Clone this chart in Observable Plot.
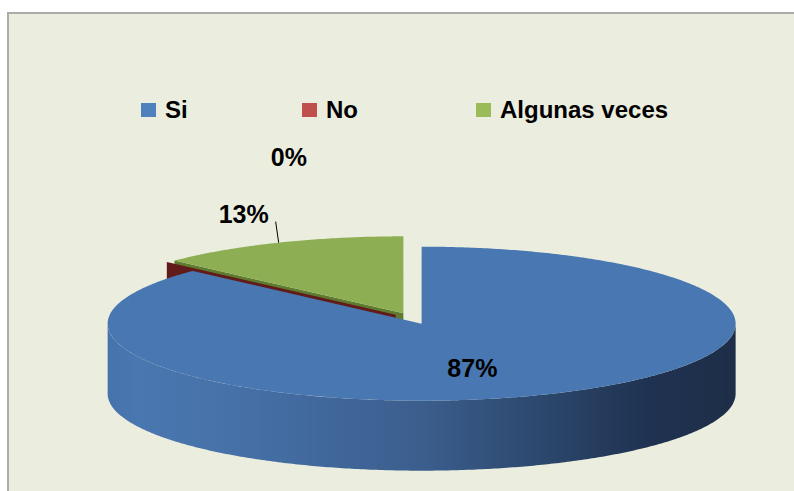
<!DOCTYPE html>
<html><head><meta charset="utf-8">
<script src="https://cdn.jsdelivr.net/npm/d3@7"></script>
<script src="https://cdn.jsdelivr.net/npm/@observablehq/plot@0.6"></script>
<style>
html,body{margin:0;padding:0;background:#fff;}
#wrap{position:relative;width:794px;height:491px;overflow:hidden;}
#frame{position:absolute;left:7px;top:12px;right:-10px;bottom:-10px;border-top:2px solid #ABABAB;border-left:2px solid #ABABAB;background:#EBEEDF;}
#chart{position:absolute;left:0;top:0;}
#legend{position:absolute;left:141px;top:96px;display:flex;align-items:center;font:bold 24px "Liberation Sans",Arial,sans-serif;line-height:28px;color:#000;}
.item{display:flex;align-items:center;}
.sw{width:15px;height:14px;margin-right:9px;}
</style></head><body>
<div id="wrap"><div id="frame"></div><div id="chart"></div><div id="legend"></div></div>
<script>
// ---- data ----
const categories = ["Si", "No", "Algunas veces"];
const values = [87, 0, 13];
const labels = ["87%", "0%", "13%"];

// ---- styles ----
const legendColors = ["#4F81BD", "#C0504D", "#9BBB59"];
const topColors = ["#4877B1", "#B5403D", "#8DAE52"];
const wallColors = ["url(#sideGrad)", "#611C1A", "#5F7B30"];

// ---- layout ----
const W = 794, H = 491;
const geo = {cx: 412, cy: 318, rx: 314, ry: 77, depth: 70, explode: 23};
const legendItemWidths = [161, 174, null];
const labelNudge = {
  "Si": {dx: -74, dy: -25},
  "No": {dx: 122, dy: -104},
  "Algunas veces": {dx: -35, dy: -28, leader: [-3, -21]}
};

const k = geo.ry / geo.rx;
const arcs = d3.pie().sort(null).value(d => d.value)
  (categories.map((c, i) => ({cat: c, value: values[i], i})));
const slices = arcs.map(a => {
  const mid = (a.startAngle + a.endAngle) / 2;
  return {...a, mid,
    cx: geo.cx + geo.explode * Math.sin(mid),
    cy: geo.cy - geo.explode * Math.cos(mid) * k};
});
const rim = (s, t, z = 0) => ({x: s.cx + geo.rx * Math.sin(t), y: s.cy - geo.ry * Math.cos(t) + z});
const arcPts = (s, t0, t1, z = 0) => {
  const n = Math.max(2, Math.ceil(Math.abs(t1 - t0) / 0.01));
  return d3.range(n + 1).map(j => rim(s, t0 + (t1 - t0) * j / n, z));
};
const radialWall = (s, t) => [
  {x: s.cx, y: s.cy}, rim(s, t), rim(s, t, geo.depth), {x: s.cx, y: s.cy + geo.depth}
];

const faces = [];
const order = slices.slice().sort((a, b) => Math.cos(b.mid) - Math.cos(a.mid));
for (const s of order) {
  const i = s.data.i;
  if (Math.sin(s.startAngle) < -1e-6) faces.push({pts: radialWall(s, s.startAngle), fill: wallColors[i]});
  if (Math.sin(s.endAngle) > 1e-6) faces.push({pts: radialWall(s, s.endAngle), fill: wallColors[i]});
  const a0 = Math.max(s.startAngle, Math.PI / 2), a1 = Math.min(s.endAngle, 3 * Math.PI / 2);
  if (a1 > a0) {
    const top = arcPts(s, a0, a1, 0);
    const bot = arcPts(s, a1, a0, geo.depth);
    faces.push({pts: top.concat(bot), fill: wallColors[i]});
  }
  if (s.endAngle - s.startAngle > 1e-6) {
    faces.push({pts: [{x: s.cx, y: s.cy}].concat(arcPts(s, s.startAngle, s.endAngle)), fill: topColors[i]});
  }
}

const labelData = slices.map(s => {
  const p = rim(s, s.mid);
  const n = labelNudge[s.data.cat];
  return {text: labels[s.data.i], x: p.x + n.dx, y: p.y + n.dy, rx: p.x, ry: p.y, leader: n.leader};
});
const leaders = labelData.filter(d => d.leader).map(d => ({x1: d.rx, y1: d.ry, x2: d.rx + d.leader[0], y2: d.ry + d.leader[1]}));

const svg = Plot.plot({
  width: W, height: H,
  margin: 0,
  x: {domain: [0, W], range: [0, W], axis: null},
  y: {domain: [0, H], range: [0, H], axis: null},
  style: {background: "transparent", overflow: "visible"},
  marks: [
    ...faces.map(f => Plot.line(f.pts, {x: "x", y: "y", fill: f.fill, stroke: "none", curve: "linear-closed"})),
    Plot.link(leaders, {x1: "x1", y1: "y1", x2: "x2", y2: "y2", stroke: "#000", strokeWidth: 1}),
    Plot.text(labelData, {x: "x", y: "y", text: "text", fontSize: 25, fontWeight: "bold",
      fontFamily: "'Liberation Sans', Arial, sans-serif", fill: "#000"})
  ]
});
const defs = document.createElementNS("http://www.w3.org/2000/svg", "defs");
defs.innerHTML = `<linearGradient id="sideGrad" x1="0" x2="1" y1="0" y2="0">
  <stop offset="0" stop-color="#4673AC"/>
  <stop offset="0.05" stop-color="#4A77B0"/>
  <stop offset="0.2" stop-color="#4671A8"/>
  <stop offset="0.5" stop-color="#3B5E8D"/>
  <stop offset="0.72" stop-color="#2A4468"/>
  <stop offset="0.86" stop-color="#1F3251"/>
  <stop offset="1" stop-color="#1E2E48"/>
</linearGradient>`;
svg.insertBefore(defs, svg.firstChild);
document.getElementById("chart").appendChild(svg);

// legend
const legend = document.getElementById("legend");
categories.forEach((c, i) => {
  const item = document.createElement("div");
  item.className = "item";
  if (legendItemWidths[i]) item.style.width = legendItemWidths[i] + "px";
  const sw = document.createElement("span");
  sw.className = "sw";
  sw.style.background = legendColors[i];
  const t = document.createElement("span");
  t.textContent = c;
  item.appendChild(sw); item.appendChild(t);
  legend.appendChild(item);
});
</script>
</body></html>
